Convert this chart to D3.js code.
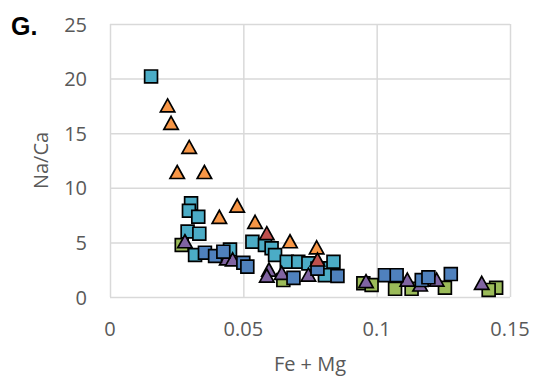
<!DOCTYPE html>
<html>
<head>
<meta charset="utf-8">
<script src="https://cdn.jsdelivr.net/npm/d3@7/dist/d3.min.js"></script>
<style>
  body { margin: 0; background: #fff; }
  text { font-family: "Open Sans", sans-serif; }
</style>
</head>
<body>
<div class="chart"></div>
<script>
// data: [Fe + Mg, Na/Ca]
var greenSq = [[0.0269,4.76],[0.065,1.55],[0.095,1.25],[0.0981,1.1],[0.1069,0.75],[0.1131,0.75],
    [0.1256,0.85],[0.1448,0.85],[0.142,0.65]];
var tealSq = [[0.0154,20.2],[0.0304,8.58],[0.0296,7.9],[0.0331,7.35],[0.0291,6.0],[0.0335,5.8],
    [0.0319,3.85],[0.045,4.35],[0.0534,5.06],[0.0581,4.76],[0.0606,4.46],[0.0619,3.85],
    [0.0663,3.23],[0.0706,3.23],[0.0744,3.08],[0.0806,2.63],[0.0838,3.23],[0.0806,2.0]];
var purpleTri = [[0.0281,5.06],[0.0438,3.5],[0.046,3.4],[0.0596,2.47],[0.0588,1.92],[0.0644,2.17],
    [0.0744,2.0],[0.096,1.4],[0.1115,1.55],[0.1163,1.1],[0.1225,1.55],[0.1394,1.25]];
var blueSq = [[0.0356,4.06],[0.0394,3.75],[0.0425,4.15],[0.05,3.14],[0.0515,2.78],[0.0688,1.75],
    [0.0778,2.6],[0.0853,1.92],[0.1031,2.0],[0.1075,2.0],[0.1169,1.55],[0.1194,1.8],[0.1278,2.1]];
var orangeTri = [[0.0216,17.5],[0.0229,15.9],[0.0297,13.7],[0.0252,11.4],[0.0354,11.4],[0.041,7.3],
    [0.0477,8.33],[0.0544,6.84],[0.0675,5.06],[0.0775,4.5]];
var redTri = [[0.0588,5.8],[0.0778,3.39]];

var xTicks = [0, 0.05, 0.1, 0.15];
var yTicks = [0, 5, 10, 15, 20, 25];

var width = 535, height = 383;
var margin = {left: 110, right: 25, top: 24, bottom: 86};

var x = d3.scaleLinear().domain([0, 0.15]).range([margin.left, width - margin.right]);
var y = d3.scaleLinear().domain([0, 25]).range([height - margin.bottom, margin.top]);

var svg = d3.select(".chart").append("svg")
    .attr("width", width)
    .attr("height", height);

// gridlines
svg.append("g")
    .attr("transform", "translate(0," + (height - margin.bottom) + ")")
    .call(d3.axisBottom(x).tickValues(xTicks).tickSize(-(height - margin.top - margin.bottom)).tickFormat(""))
    .call(function (g) { g.select(".domain").remove(); })
    .selectAll("line").attr("stroke", "#d9d9d9").attr("stroke-width", 1.5);

svg.append("g")
    .attr("transform", "translate(" + margin.left + ",0)")
    .call(d3.axisLeft(y).tickValues(yTicks).tickSize(-(width - margin.left - margin.right)).tickFormat(""))
    .call(function (g) { g.select(".domain").remove(); })
    .selectAll("line").attr("stroke", "#d9d9d9").attr("stroke-width", 1.5);

// tick labels
svg.append("g").selectAll("text")
    .data(xTicks)
    .enter().append("text")
    .attr("x", function (d) { return x(d); })
    .attr("y", 336)
    .attr("text-anchor", "middle")
    .attr("font-size", 20)
    .attr("fill", "#595959")
    .text(function (d) { return d; });

svg.append("g").selectAll("text")
    .data(yTicks)
    .enter().append("text")
    .attr("x", 87)
    .attr("y", function (d) { return y(d) + 7.5; })
    .attr("text-anchor", "end")
    .attr("font-size", 20)
    .attr("fill", "#595959")
    .text(function (d) { return d; });

// axis titles
svg.append("text")
    .attr("x", (x(0) + x(0.15)) / 2)
    .attr("y", 371)
    .attr("text-anchor", "middle")
    .attr("font-size", 20)
    .attr("fill", "#595959")
    .text("Fe + Mg");

svg.append("text")
    .attr("transform", "translate(48," + (y(0) + y(25)) / 2 + ") rotate(-90)")
    .attr("text-anchor", "middle")
    .attr("font-size", 20)
    .attr("fill", "#595959")
    .text("Na/Ca");

svg.append("text")
    .attr("x", 11)
    .attr("y", 35)
    .attr("font-size", 25)
    .attr("font-weight", "bold")
    .style("font-family", "'Liberation Sans', Arial, sans-serif")
    .attr("fill", "#000")
    .text("G.");

// markers
var sq = d3.symbol().type(d3.symbolSquare).size(165);
var tri = "M0,-7L7.2,6L-7.2,6Z";

function drawSeries(data, shape, fill) {
    svg.append("g").selectAll("path")
        .data(data)
        .enter().append("path")
        .attr("transform", function (d) { return "translate(" + x(d[0]) + "," + y(d[1]) + ")"; })
        .attr("d", shape === "square" ? sq : tri)
        .attr("fill", fill)
        .attr("stroke", "#000")
        .attr("stroke-width", 1.7)
        .attr("stroke-linejoin", "miter");
}

drawSeries(greenSq, "square", "#9bbb59");
drawSeries(tealSq, "square", "#4bacc6");
drawSeries(purpleTri, "triangle", "#8064a2");
drawSeries(blueSq, "square", "#4f81bd");
drawSeries(orangeTri, "triangle", "#f79646");
drawSeries(redTri, "triangle", "#c0504d");
</script>
</body>
</html>
